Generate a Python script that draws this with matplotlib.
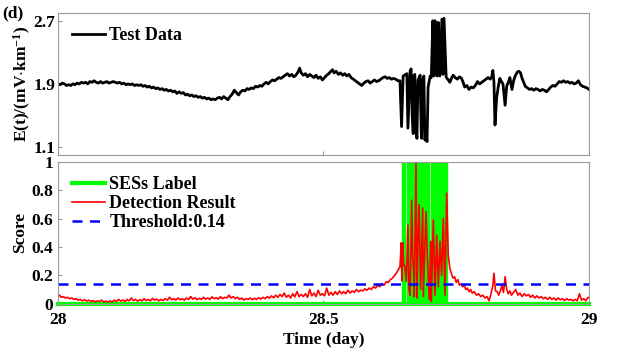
import matplotlib
matplotlib.use("Agg")
import matplotlib.pyplot as plt
from matplotlib.lines import Line2D

# ---- data ---------------------------------------------------------------------
# test data E(t) in mV/km vs time (day)
t_test = [
    28.000, 28.004, 28.008, 28.012, 28.016, 28.020, 28.024, 28.028, 28.032, 28.036,
    28.040, 28.044, 28.048, 28.052, 28.056, 28.060, 28.064, 28.068, 28.072, 28.076,
    28.080, 28.084, 28.088, 28.092, 28.096, 28.100, 28.104, 28.108, 28.112, 28.116,
    28.120, 28.124, 28.128, 28.132, 28.136, 28.140, 28.144, 28.148, 28.152, 28.156,
    28.160, 28.164, 28.168, 28.172, 28.176, 28.180, 28.184, 28.188, 28.192, 28.196,
    28.200, 28.204, 28.208, 28.212, 28.216, 28.220, 28.224, 28.228, 28.232, 28.236,
    28.240, 28.244, 28.248, 28.252, 28.256, 28.260, 28.264, 28.268, 28.272, 28.276,
    28.280, 28.284, 28.288, 28.292, 28.296, 28.300, 28.304, 28.308, 28.312, 28.316,
    28.320, 28.324, 28.328, 28.332, 28.336, 28.340, 28.344, 28.348, 28.352, 28.356,
    28.360, 28.364, 28.368, 28.372, 28.376, 28.380, 28.384, 28.388, 28.392, 28.396,
    28.400, 28.404, 28.408, 28.412, 28.416, 28.420, 28.424, 28.428, 28.432, 28.436,
    28.440, 28.444, 28.448, 28.452, 28.455, 28.458, 28.462, 28.466, 28.470, 28.474,
    28.478, 28.482, 28.486, 28.490, 28.494, 28.498, 28.502, 28.506, 28.510, 28.514,
    28.517, 28.520, 28.524, 28.528, 28.532, 28.536, 28.540, 28.544, 28.548, 28.552,
    28.556, 28.560, 28.564, 28.568, 28.572, 28.576, 28.580, 28.584, 28.588, 28.592,
    28.596, 28.600, 28.604, 28.608, 28.612, 28.616, 28.620, 28.624, 28.628, 28.632,
    28.636, 28.640, 28.644,
    # SES burst
    28.647, 28.650, 28.657, 28.659, 28.663, 28.665, 28.667, 28.669, 28.670, 28.672,
    28.674, 28.676, 28.678, 28.682, 28.684, 28.685, 28.687, 28.689, 28.691, 28.693,
    28.695, 28.697, 28.701, 28.703, 28.706, 28.708, 28.710, 28.712, 28.714, 28.716,
    28.718, 28.719, 28.723, 28.725, 28.727, 28.731,
    28.735, 28.738, 28.741, 28.744, 28.748, 28.752, 28.756, 28.760, 28.763, 28.766,
    28.770, 28.774, 28.778, 28.782, 28.786, 28.790, 28.794, 28.798, 28.802, 28.806,
    28.810, 28.814, 28.817, 28.819, 28.821, 28.823, 28.826, 28.829, 28.832, 28.835,
    28.838, 28.842, 28.845, 28.848, 28.851, 28.855, 28.858, 28.861, 28.865, 28.868,
    28.871, 28.874, 28.877, 28.880, 28.884, 28.888, 28.892, 28.896, 28.900, 28.904,
    28.908, 28.912, 28.916, 28.920, 28.924, 28.928, 28.932, 28.936, 28.940, 28.944,
    28.948, 28.952, 28.956, 28.960, 28.964, 28.968, 28.972, 28.976, 28.980, 28.984,
    28.988, 28.992, 28.996, 29.000,
]
e_test = [
    1.90, 1.89, 1.91, 1.90, 1.88, 1.89, 1.88, 1.90, 1.89, 1.91,
    1.90, 1.92, 1.91, 1.92, 1.90, 1.93, 1.92, 1.94, 1.92, 1.91,
    1.93, 1.91, 1.92, 1.93, 1.91, 1.92, 1.93, 1.92, 1.91, 1.92,
    1.90, 1.91, 1.89, 1.90, 1.89, 1.90, 1.88, 1.89, 1.88, 1.89,
    1.87, 1.88, 1.86, 1.87, 1.85, 1.86, 1.84, 1.85, 1.83, 1.84,
    1.82, 1.83, 1.81, 1.82, 1.80, 1.81, 1.78, 1.80, 1.78, 1.79,
    1.76, 1.77, 1.75, 1.76, 1.74, 1.75, 1.73, 1.74, 1.72, 1.73,
    1.71, 1.72, 1.70, 1.71, 1.70, 1.72, 1.73, 1.71, 1.74, 1.72,
    1.70, 1.74, 1.77, 1.82, 1.79, 1.76, 1.80, 1.82, 1.81, 1.84,
    1.83, 1.85, 1.84, 1.87, 1.86, 1.88, 1.87, 1.90, 1.92, 1.90,
    1.93, 1.95, 1.94, 1.96, 1.98, 1.97, 1.99, 2.01, 2.03, 2.00,
    2.02, 1.99, 2.01, 2.05, 2.10, 2.04, 2.01, 2.03, 1.99, 2.02,
    2.00, 1.98, 2.01, 1.97, 1.99, 1.95, 1.98, 2.01, 2.03, 2.06,
    2.08, 2.04, 2.06, 2.02, 2.04, 2.01, 2.03, 2.00, 2.02, 1.98,
    1.96, 1.94, 1.92, 1.90, 1.88, 1.91, 1.93, 1.94, 1.91, 1.93,
    1.95, 1.93, 1.94, 1.96, 1.98, 1.99, 1.97, 1.98, 1.96, 1.97,
    1.96, 1.94, 1.94,
    1.36, 2.00, 2.03, 1.34, 2.06, 2.09, 1.50, 1.27, 2.00, 2.02,
    1.40, 1.21, 1.95, 2.01, 1.30, 1.21, 1.95, 2.00, 1.19, 1.25,
    1.17, 1.86, 2.00, 1.98, 2.70, 2.00, 2.70, 2.05, 2.00, 2.68,
    2.02, 2.00, 2.72, 2.02, 2.73, 1.985,
    1.95, 1.92, 1.97, 2.01, 1.98, 1.96, 1.99, 1.97, 1.92, 1.86,
    1.88, 1.83, 1.86, 1.85, 1.88, 1.93, 1.90, 1.92, 1.94, 1.96,
    1.98, 1.96, 1.99, 2.07, 1.92, 1.38, 1.72, 1.86, 1.97, 1.93,
    1.90, 1.63, 1.87, 1.92, 1.98, 1.83, 1.94, 2.00, 2.05, 2.06,
    2.04, 1.97, 1.92, 1.87, 1.85, 1.83, 1.84, 1.82, 1.84, 1.83,
    1.81, 1.83, 1.82, 1.80, 1.83, 1.86, 1.88, 1.87, 1.90, 1.93,
    1.92, 1.94, 1.92, 1.93, 1.91, 1.92, 1.90, 1.91, 1.94, 1.89,
    1.87, 1.86, 1.85, 1.83,
]

# detection score
t_score = [
    28.000, 28.003, 28.006, 28.010, 28.014, 28.018, 28.022, 28.026, 28.030, 28.034,
    28.038, 28.042, 28.046, 28.050, 28.054, 28.058, 28.062, 28.066, 28.070, 28.074,
    28.078, 28.082, 28.086, 28.090, 28.094, 28.098, 28.102, 28.106, 28.110, 28.114,
    28.118, 28.122, 28.126, 28.130, 28.134, 28.138, 28.142, 28.146, 28.150, 28.154,
    28.158, 28.162, 28.166, 28.170, 28.174, 28.178, 28.182, 28.186, 28.190, 28.194,
    28.198, 28.202, 28.206, 28.210, 28.214, 28.218, 28.222, 28.226, 28.230, 28.234,
    28.238, 28.242, 28.246, 28.250, 28.254, 28.258, 28.262, 28.266, 28.270, 28.274,
    28.278, 28.282, 28.286, 28.290, 28.294, 28.298, 28.302, 28.306, 28.310, 28.314,
    28.318, 28.322, 28.326, 28.330, 28.334, 28.338, 28.342, 28.346, 28.350, 28.354,
    28.358, 28.362, 28.366, 28.370, 28.374, 28.378, 28.382, 28.386, 28.390, 28.394,
    28.398, 28.402, 28.406, 28.410, 28.414, 28.418, 28.422, 28.426, 28.430, 28.434,
    28.438, 28.442, 28.446, 28.450, 28.454, 28.458, 28.462, 28.466, 28.470, 28.474,
    28.478, 28.482, 28.486, 28.490, 28.494, 28.498, 28.502, 28.506, 28.510, 28.514,
    28.518, 28.522, 28.526, 28.530, 28.534, 28.538, 28.542, 28.546, 28.550, 28.554,
    28.558, 28.562, 28.566, 28.570, 28.574, 28.578, 28.582, 28.586, 28.590, 28.594,
    28.598, 28.602, 28.606, 28.610, 28.614, 28.618, 28.622, 28.626, 28.630, 28.634,
    28.638, 28.641,
    # SES burst
    28.644, 28.6465, 28.6475, 28.649, 28.651, 28.653, 28.656, 28.659, 28.661, 28.663,
    28.6645, 28.666, 28.668, 28.670, 28.671, 28.6742, 28.676, 28.678, 28.680, 28.683,
    28.6868, 28.688, 28.690, 28.693, 28.6955, 28.6993, 28.7005, 28.7019, 28.703, 28.705,
    28.7068, 28.710, 28.7132, 28.7162, 28.7194, 28.7225, 28.7256, 28.7288, 28.732,
    28.735, 28.738, 28.741, 28.744, 28.747, 28.750, 28.753, 28.756, 28.759, 28.762,
    28.765, 28.768, 28.771, 28.774, 28.777, 28.780, 28.784, 28.788, 28.792, 28.796,
    28.800, 28.804, 28.808, 28.812, 28.816, 28.819, 28.821, 28.824, 28.827, 28.830,
    28.833, 28.836, 28.839, 28.842, 28.845, 28.848, 28.851, 28.854, 28.858, 28.862,
    28.866, 28.870, 28.874, 28.878, 28.882, 28.886, 28.890, 28.894, 28.898, 28.902,
    28.906, 28.910, 28.914, 28.918, 28.922, 28.926, 28.930, 28.934, 28.938, 28.942,
    28.946, 28.950, 28.954, 28.958, 28.962, 28.966, 28.970, 28.974, 28.978, 28.982,
    28.986, 28.990, 28.994, 28.998, 29.000,
]
score = [
    0.050, 0.060, 0.045, 0.050, 0.040, 0.045, 0.035, 0.040, 0.030, 0.035,
    0.025, 0.030, 0.020, 0.028, 0.018, 0.025, 0.015, 0.022, 0.012, 0.020,
    0.015, 0.025, 0.012, 0.018, 0.010, 0.020, 0.012, 0.025, 0.015, 0.030,
    0.018, 0.026, 0.015, 0.030, 0.020, 0.040, 0.022, 0.030, 0.018, 0.028,
    0.020, 0.035, 0.022, 0.030, 0.020, 0.038, 0.025, 0.032, 0.020, 0.030,
    0.022, 0.035, 0.025, 0.045, 0.028, 0.036, 0.025, 0.040, 0.028, 0.035,
    0.025, 0.040, 0.030, 0.050, 0.032, 0.042, 0.028, 0.038, 0.030, 0.045,
    0.032, 0.040, 0.030, 0.048, 0.035, 0.042, 0.032, 0.050, 0.035, 0.045,
    0.040, 0.060, 0.040, 0.050, 0.035, 0.045, 0.030, 0.040, 0.025, 0.035,
    0.030, 0.040, 0.028, 0.038, 0.030, 0.042, 0.032, 0.045, 0.035, 0.050,
    0.040, 0.055, 0.042, 0.060, 0.045, 0.065, 0.050, 0.075, 0.045, 0.060,
    0.040, 0.070, 0.048, 0.085, 0.050, 0.065, 0.050, 0.070, 0.045, 0.100,
    0.055, 0.075, 0.050, 0.095, 0.060, 0.070, 0.055, 0.110, 0.060, 0.080,
    0.060, 0.085, 0.065, 0.090, 0.070, 0.085, 0.070, 0.095, 0.075, 0.090,
    0.080, 0.100, 0.085, 0.095, 0.090, 0.105, 0.095, 0.110, 0.100, 0.120,
    0.110, 0.130, 0.120, 0.140, 0.130, 0.155, 0.150, 0.170, 0.180, 0.200,
    0.220, 0.240,
    0.260, 0.430, 0.160, 0.430, 0.270, 0.270, 0.155, 0.555, 0.100, 0.060,
    0.350, 0.730, 0.340, 0.200, 0.050, 1.000, 0.040, 0.450, 0.700, 0.100,
    0.675, 0.050, 0.300, 0.650, 0.340, 0.030, 0.200, 0.440, 0.015, 0.300,
    0.590, 0.060, 0.485, 0.120, 0.440, 0.200, 0.600, 0.060, 0.780,
    0.340, 0.250, 0.210, 0.180, 0.190, 0.150, 0.170, 0.130, 0.140, 0.120,
    0.130, 0.100, 0.110, 0.085, 0.100, 0.075, 0.085, 0.060, 0.070, 0.050,
    0.060, 0.040, 0.050, 0.020, 0.080, 0.130, 0.215, 0.090, 0.085, 0.060,
    0.090, 0.130, 0.080, 0.190, 0.100, 0.070, 0.090, 0.060, 0.080, 0.100,
    0.060, 0.075, 0.050, 0.070, 0.055, 0.065, 0.045, 0.060, 0.040, 0.055,
    0.040, 0.050, 0.035, 0.045, 0.030, 0.045, 0.030, 0.040, 0.025, 0.040,
    0.028, 0.035, 0.022, 0.035, 0.025, 0.030, 0.020, 0.030, 0.020, 0.070,
    0.025, 0.035, 0.020, 0.045, 0.040,
]

# SES label (binary, step edges)
t_label = [28.0, 28.647, 28.653, 28.657, 28.699, 28.702, 28.732, 29.0]
label = [0, 1, 0, 1, 0, 1, 0, 0]

threshold = 0.14
xticks = [28, 28.5, 29]

# ---- figure -----------------------------------------------------------------
plt.rcParams["font.family"] = ["Liberation Serif", "DejaVu Serif"]
plt.rcParams["font.weight"] = "bold"
plt.rcParams["axes.labelweight"] = "bold"
plt.rcParams["mathtext.fontset"] = "custom"
plt.rcParams["mathtext.rm"] = "Liberation Serif:bold"
plt.rcParams["mathtext.default"] = "rm"

FS = 12.5
fig = plt.figure(figsize=(6.17, 3.56), dpi=100)
ax1 = fig.add_axes([0.094, 0.5646, 0.8606, 0.3994])
ax2 = fig.add_axes([0.094, 0.147, 0.8606, 0.398])

grey = "0.6"
for a in (ax1, ax2):
    for s in a.spines.values():
        s.set_color(grey)
        s.set_linewidth(0.8)
    a.tick_params(direction="in", length=3, color=grey, labelsize=FS, width=0.8)
    a.set_xlim(28, 29)
    a.set_xticks(xticks)

GREEN = "#00ff00"

# top: test data
ax1.plot(t_test, e_test, color="black", lw=2.0, label="Test Data")
ax1.set_ylim(1.0, 2.8)
ax1.set_yticks([1.1, 1.9, 2.7])
ax1.set_yticklabels(["1.1", "1.9", "2.7"])
ax1.tick_params(labelbottom=False, pad=2)
ax1.set_ylabel(r"E(t)/(mV$\cdot$km$^{-1}$)", fontsize=12.5, labelpad=0)
ax1.legend(loc="upper left", frameon=False, fontsize=FS + 0.5, handlelength=1.8,
           handletextpad=0.25, borderaxespad=0.5, borderpad=0.3)
fig.text(0.003, 0.962, "(d)", fontsize=12.5, fontweight="bold", va="center")

# bottom: label, detection, threshold
ax2.fill_between(t_label, label, step="post", color=GREEN, lw=0)
ax2.plot(t_label, label, drawstyle="steps-post", color=GREEN, lw=1.0)
ax2.axhline(0, color=GREEN, lw=3, clip_on=False)
ax2.plot(t_score, score, color="red", lw=1.2)
ax2.axhline(threshold, color="blue", ls=(0, (4, 3)), lw=1.8)
ax2.set_ylim(0, 1)
ax2.set_yticks([0, 0.2, 0.4, 0.6, 0.8, 1])
ax2.set_yticklabels(["0", "0.2", "0.4", "0.6", "0.8", "1"])
ax2.set_xticklabels(["28", "28.5", "29"])
ax2.tick_params(axis="x", pad=6)
ax2.set_ylabel("Score", fontsize=12.5, labelpad=2)
ax2.set_xlabel("Time (day)", fontsize=12.5, labelpad=3)

handles = [
    Line2D([], [], color=GREEN, lw=3),
    Line2D([], [], color="red", lw=1.2),
    Line2D([], [], color="blue", lw=1.8, ls=(0, (4, 3))),
]
ax2.legend(handles, ["SESs Label", "Detection Result", f"Threshold:{threshold}"],
           loc="upper left", frameon=False, fontsize=FS + 0.5, handlelength=1.8,
           handletextpad=0.25, borderaxespad=0.5, borderpad=0.3, labelspacing=0.1)

fig.savefig("out.png", dpi=100)
